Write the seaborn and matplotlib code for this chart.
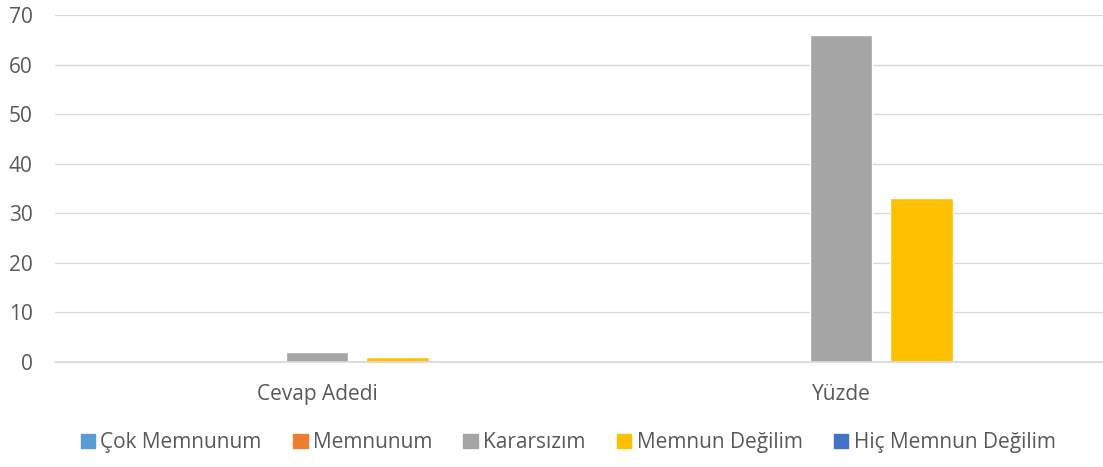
import numpy as np
import pandas as pd
import seaborn as sns
import matplotlib.pyplot as plt

categories = ['Cevap Adedi', 'Yüzde']
series = ['Çok Memnunum', 'Memnunum', 'Kararsızım', 'Memnun Değilim', 'Hiç Memnun Değilim']
cok_memnunum = [0, 0]
memnunum = [0, 0]
kararsizim = [2, 66]
memnun_degilim = [1, 33]
hic_memnun_degilim = [0, 0]
colors = ['#5B9BD5', '#ED7D31', '#A5A5A5', '#FFC000', '#4472C4']

values = [cok_memnunum, memnunum, kararsizim, memnun_degilim, hic_memnun_degilim]
rows = []
for name, vals in zip(series, values):
    for cat, v in zip(categories, vals):
        rows.append({'kategori': cat, 'seri': name, 'deger': v})
df = pd.DataFrame(rows)

sns.set_theme(style='white')
plt.rcParams['font.family'] = ['Open Sans', 'DejaVu Sans']
text_color = '#595959'
fs = 15

fig = plt.figure(figsize=(11.03, 4.67), dpi=100)
ax = fig.add_axes([55 / 1103, 105 / 467, 1048 / 1103, 347 / 467])
sns.barplot(data=df, x='kategori', y='deger', hue='seri', palette=colors,
            width=0.77, gap=0.22, ax=ax, legend=False, saturation=1)

ax.set_ylim(0, 70)
ax.set_yticks(np.arange(0, 71, 10))
ax.set_xlim(-0.5, 1.5)
ax.yaxis.grid(True, color='#D9D9D9', linewidth=1)
ax.set_axisbelow(True)
for s in ['top', 'right', 'left']:
    ax.spines[s].set_visible(False)
ax.spines['bottom'].set_color('#D9D9D9')
ax.tick_params(axis='both', length=0, labelsize=fs, colors=text_color)
ax.tick_params(axis='x', pad=16)
ax.tick_params(axis='y', pad=16)
ax.set_xlabel('')
ax.set_ylabel('')

handles = [plt.Rectangle((0, 0), 1, 1, color=c) for c in colors]
fig.legend(handles, series, loc='center', bbox_to_anchor=(0.515, 0.052), ncol=5,
           frameon=False, fontsize=fs, handlelength=0.7, handleheight=0.7,
           handletextpad=0.25, columnspacing=1.5, labelcolor=text_color)

fig.savefig('out.png', dpi=100)
